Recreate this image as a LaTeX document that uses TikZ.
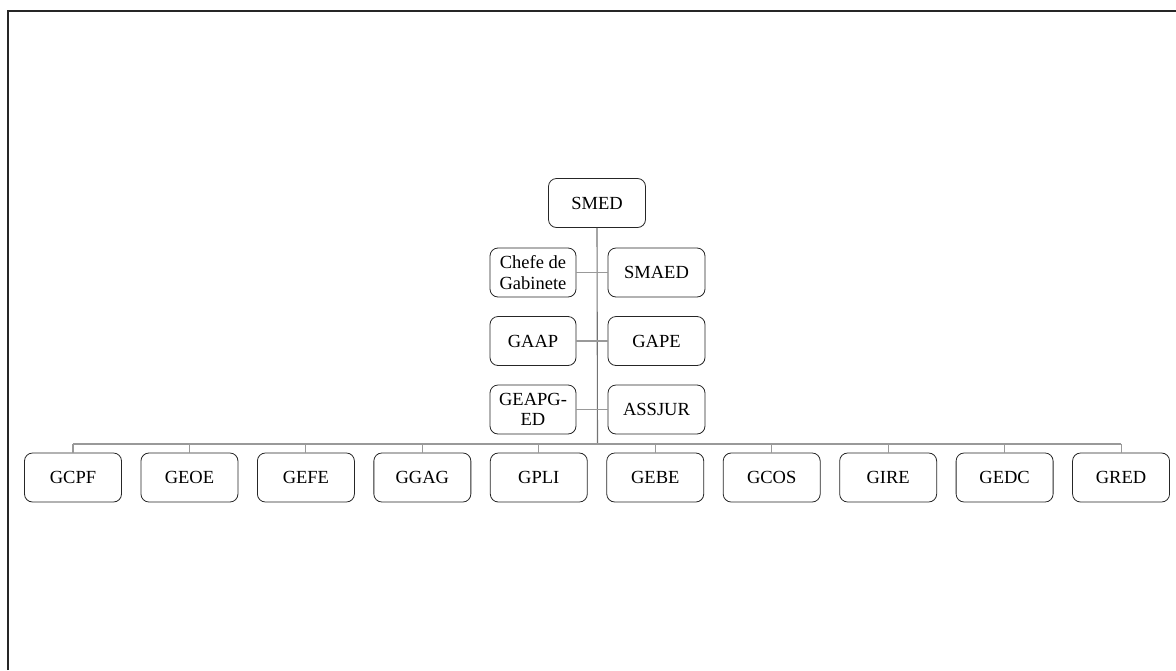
\documentclass[tikz,border=0pt]{standalone}
\usepackage{fontspec}
\setmainfont{Liberation Serif}
\begin{document}
\begin{tikzpicture}[x=1pt,y=-1pt,
  box/.style={draw=black!85,line width=0.8pt,rounded corners=8pt,minimum width=97pt,minimum height=49pt,inner sep=1pt,align=center,font=\fontsize{18.5}{20.5}\selectfont},
  sbox/.style={box,minimum width=86pt},
  conn/.style={draw=black!40,line width=1.1pt}]
\useasboundingbox (0,0) rectangle (1176,670);
\draw[line width=1.6pt,black!85] (8,670) -- (8,11) -- (1176,11);
\node[box] (smed) at (597,203) {SMED};
\node[sbox] (cg) at (533,272.5) {Chefe de\\Gabinete};
\node[box] (smaed) at (656.5,272.5) {SMAED};
\node[sbox] (gaap) at (533,341) {GAAP};
\node[box] (gape) at (656.5,341) {GAPE};
\node[sbox] (geapg) at (533,409.5) {GEAPG-\\ED};
\node[box] (assjur) at (656.5,409.5) {ASSJUR};
\coordinate (j) at (597.5,444);
\coordinate (bl) at (73,444);
\coordinate (br) at (1121,444);
\foreach \n [count=\i from 0] in {GCPF,GEOE,GEFE,GGAG,GPLI,GEBE,GCOS,GIRE,GEDC,GRED}{
  \node[box] (b\i) at ({73+116.45*\i},477.5) {\n};
  \draw[conn] (b\i.north) -- (b\i.north |- bl);
}
\draw[conn,draw=black!55] (smed.south) -- (j);
\draw[conn] (bl) -- (br);
\draw[conn] (cg.east) -- (smaed.west);
\draw[conn] (gaap.east) -- (gape.west);
\draw[conn] (geapg.east) -- (assjur.west);
\end{tikzpicture}
\end{document}
